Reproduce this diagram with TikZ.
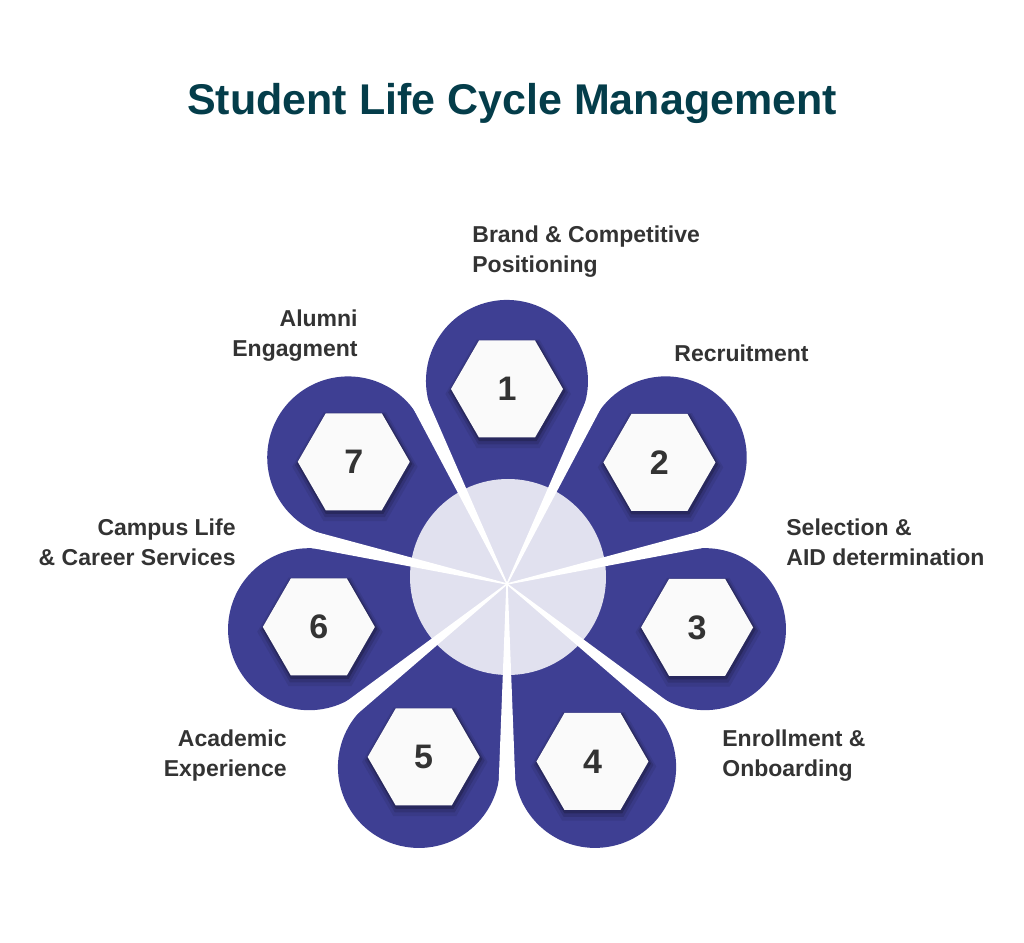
\documentclass[tikz,border=0pt]{standalone}
\usepackage{fontspec}
\setmainfont{Liberation Sans}
\usetikzlibrary{calc,shapes.geometric,shadows}
\definecolor{slpetal}{RGB}{62,63,147}
\definecolor{slhub}{RGB}{225,225,239}
\definecolor{slhex}{RGB}{250,250,250}
\definecolor{slink}{RGB}{51,51,51}
\definecolor{sltitle}{RGB}{4,61,74}
\tikzset{
  petal/.style={fill=slpetal},
  hub/.style={circle, fill=slhub, minimum size=98pt, inner sep=0pt},
  gapcut/.style={fill=white, draw=white, line width=0.7pt, line join=round},
  hexbox/.style={
    regular polygon, regular polygon sides=6, minimum size=56pt,
    inner sep=0pt, fill=slhex, text=slink,
    font=\fontsize{17}{17}\selectfont\bfseries,
    general shadow={fill=black, opacity=.08, shadow scale=1.12, shadow xshift=.5pt, shadow yshift=-2.2pt},
    general shadow={fill=black, opacity=.12, shadow scale=1.07, shadow xshift=.5pt, shadow yshift=-1.6pt},
    general shadow={fill=black, opacity=.2, shadow scale=1.03, shadow xshift=.4pt, shadow yshift=-1pt}
  },
  lbl/.style={font=\fontsize{11.5}{15}\selectfont\bfseries, text=slink, inner sep=0pt},
  lblr/.style={lbl, align=left, anchor=west},
  lbll/.style={lbl, align=right, anchor=east},
  ttl/.style={font=\fontsize{21.5}{26}\selectfont\bfseries, text=sltitle}
}

\begin{document}
\begin{tikzpicture}[x=0.5pt, y=0.5pt]
  \useasboundingbox (0,0) rectangle (1024,943);
  \coordinate (C) at (507,359);
  \node[ttl] (title) at (512,840) {Student Life Cycle Management};

  \fill[petal] (C) -- ++(66.5:186.2) arc[start angle=-23.5, end angle=203.5, radius=40.5pt] -- cycle;
  \fill[petal] (C) -- ++(15.071:186.2) arc[start angle=-74.929, end angle=152.071, radius=40.5pt] -- cycle;
  \fill[petal] (C) -- ++(-36.357:186.2) arc[start angle=-126.357, end angle=100.643, radius=40.5pt] -- cycle;
  \fill[petal] (C) -- ++(-87.786:186.2) arc[start angle=-177.786, end angle=49.214, radius=40.5pt] -- cycle;
  \fill[petal] (C) -- ++(-139.214:186.2) arc[start angle=-229.214, end angle=-2.214, radius=40.5pt] -- cycle;
  \fill[petal] (C) -- ++(-190.643:186.2) arc[start angle=-280.643, end angle=-53.643, radius=40.5pt] -- cycle;
  \fill[petal] (C) -- ++(117.929:186.2) arc[start angle=27.929, end angle=254.929, radius=40.5pt] -- cycle;

  \node[hub] (hub) at (508,366) {};

  \filldraw[gapcut] (C) -- +(62.086:200) -- +(66.486:200) -- cycle;
  \filldraw[gapcut] (C) -- +(10.657:200) -- +(15.057:200) -- cycle;
  \filldraw[gapcut] (C) -- +(-40.771:200) -- +(-36.371:200) -- cycle;
  \filldraw[gapcut] (C) -- +(-92.2:200) -- +(-87.8:200) -- cycle;
  \filldraw[gapcut] (C) -- +(-143.629:200) -- +(-139.229:200) -- cycle;
  \filldraw[gapcut] (C) -- +(164.943:200) -- +(169.343:200) -- cycle;
  \filldraw[gapcut] (C) -- +(113.514:200) -- +(117.914:200) -- cycle;

  \node[hexbox] (s1) at ($(C)+(90:195)$) {1};
  \node[hexbox] (s2) at ($(C)+(38.571:195)$) {2};
  \node[hexbox] (s3) at ($(C)+(-12.857:195)$) {3};
  \node[hexbox] (s4) at ($(C)+(-64.286:197)$) {4};
  \node[hexbox] (s5) at ($(C)+(-115.714:192)$) {5};
  \node[hexbox] (s6) at ($(C)+(-167.143:193)$) {6};
  \node[hexbox] (s7) at ($(C)+(141.429:196)$) {7};

  \node[lblr] (l1) at (472,691) {Brand \& Competitive\\Positioning};
  \node[lblr] (l2) at (674,590) {Recruitment};
  \node[lblr] (l3) at (786,401) {Selection \&\\AID determination};
  \node[lblr] (l4) at (722,187) {Enrollment \&\\Onboarding};
  \node[lbll] (l5) at (287,187) {Academic\\Experience};
  \node[lbll] (l6) at (236,401) {Campus Life\\\& Career Services};
  \node[lbll] (l7) at (358,607) {Alumni\\Engagment};
\end{tikzpicture}
\end{document}
